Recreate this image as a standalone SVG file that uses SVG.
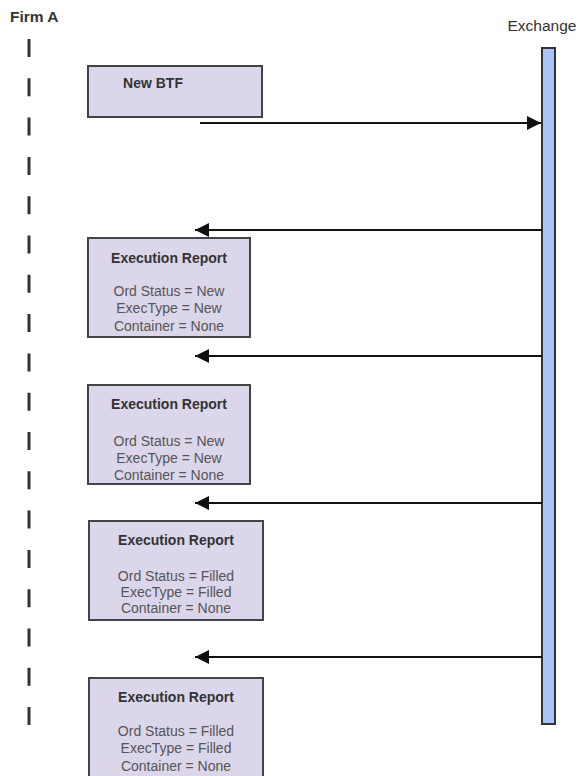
<svg xmlns="http://www.w3.org/2000/svg" width="584" height="776" viewBox="0 0 584 776">
<style>
.box{fill:#dcd6ea;stroke:#444;stroke-width:2}
.t{font-family:"Liberation Sans",Arial,sans-serif;font-size:14px;fill:#555;text-anchor:middle}
.b{font-family:"Liberation Sans",Arial,sans-serif;font-size:14px;font-weight:bold;fill:#333;text-anchor:middle}
.msg{stroke:#111;stroke-width:2;fill:none}
</style>
<defs>
<marker id="ah" viewBox="0 0 10 10" refX="10" refY="5" markerWidth="8" markerHeight="7" markerUnits="strokeWidth" orient="auto">
<path d="M0,0 L10,5 L0,10 z" fill="#111"/>
</marker>
</defs>
<rect width="584" height="776" fill="#fff"/>
<g id="firmA">
<text x="10" y="22" font-family="'Liberation Sans',Arial,sans-serif" font-size="15.5" font-weight="bold" fill="#333">Firm A</text>
<line x1="29" y1="39" x2="29" y2="728" stroke="#333" stroke-width="3" stroke-dasharray="18 21.3"/>
</g>
<g id="exchange">
<text x="542" y="31" font-family="'Liberation Sans',Arial,sans-serif" font-size="15.5" fill="#333" text-anchor="middle">Exchange</text>
<rect x="542" y="48" width="13" height="676" fill="#a9c4f5" stroke="#333" stroke-width="2"/>
</g>
<g id="connectors">
<line class="msg" x1="200" y1="123" x2="541" y2="123" marker-end="url(#ah)"/>
<line class="msg" x1="542" y1="230" x2="195" y2="230" marker-end="url(#ah)"/>
<line class="msg" x1="542" y1="356" x2="195" y2="356" marker-end="url(#ah)"/>
<line class="msg" x1="542" y1="503" x2="195" y2="503" marker-end="url(#ah)"/>
<line class="msg" x1="542" y1="657" x2="195" y2="657" marker-end="url(#ah)"/>
</g>
<g id="newBTF">
<rect class="box" x="88" y="66" width="174" height="51"/>
<text class="b" x="153" y="88">New BTF</text>
</g>
<g id="er1">
<rect class="box" x="88" y="238" width="162" height="99"/>
<text class="b" x="169" y="263">Execution Report</text>
<text class="t" x="169" y="296">Ord Status = New</text>
<text class="t" x="169" y="313">ExecType = New</text>
<text class="t" x="169" y="331">Container = None</text>
</g>
<g id="er2">
<rect class="box" x="88" y="385" width="162" height="99"/>
<text class="b" x="169" y="409">Execution Report</text>
<text class="t" x="169" y="446">Ord Status = New</text>
<text class="t" x="169" y="463">ExecType = New</text>
<text class="t" x="169" y="480">Container = None</text>
</g>
<g id="er3">
<rect class="box" x="89" y="521" width="174" height="99"/>
<text class="b" x="176" y="545">Execution Report</text>
<text class="t" x="176" y="581">Ord Status = Filled</text>
<text class="t" x="176" y="597">ExecType = Filled</text>
<text class="t" x="176" y="613">Container = None</text>
</g>
<g id="er4">
<rect class="box" x="89" y="678" width="174" height="100"/>
<text class="b" x="176" y="702">Execution Report</text>
<text class="t" x="176" y="736">Ord Status = Filled</text>
<text class="t" x="176" y="753">ExecType = Filled</text>
<text class="t" x="176" y="771">Container = None</text>
</g>
</svg>
